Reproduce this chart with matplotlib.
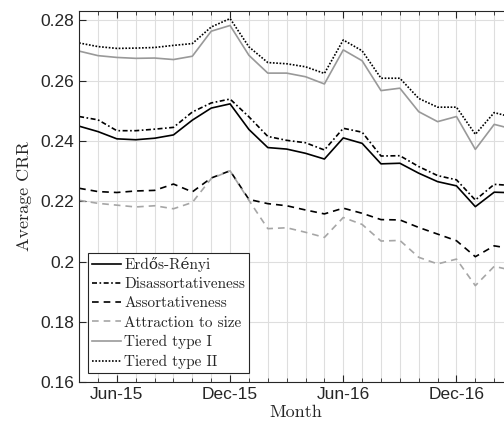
import numpy as np
import matplotlib
matplotlib.use('Agg')
from matplotlib import pyplot as plt
from matplotlib.ticker import FixedLocator, FormatStrFormatter

months = ['Apr-15', 'May-15', 'Jun-15', 'Jul-15', 'Aug-15', 'Sep-15', 'Oct-15', 'Nov-15',
          'Dec-15', 'Jan-16', 'Feb-16', 'Mar-16', 'Apr-16', 'May-16', 'Jun-16', 'Jul-16',
          'Aug-16', 'Sep-16', 'Oct-16', 'Nov-16', 'Dec-16', 'Jan-17', 'Feb-17', 'Mar-17']
tick_months = ['Jun-15', 'Dec-15', 'Jun-16', 'Dec-16']

erdos_renyi = [0.2449, 0.2431, 0.2407, 0.2404, 0.2409, 0.2420, 0.2469, 0.2509,
               0.2523, 0.2438, 0.2378, 0.2373, 0.2359, 0.2340, 0.2410, 0.2392,
               0.2324, 0.2326, 0.2293, 0.2265, 0.2251, 0.2182, 0.2230, 0.2228]
disassort = [0.2481, 0.2470, 0.2434, 0.2434, 0.2439, 0.2445, 0.2496, 0.2526,
             0.2539, 0.2480, 0.2415, 0.2402, 0.2394, 0.2370, 0.2442, 0.2429,
             0.2350, 0.2351, 0.2315, 0.2285, 0.2271, 0.2204, 0.2256, 0.2252]
assort = [0.2243, 0.2232, 0.2229, 0.2234, 0.2236, 0.2257, 0.2231, 0.2277,
          0.2301, 0.2206, 0.2192, 0.2185, 0.2171, 0.2158, 0.2177, 0.2160,
          0.2139, 0.2138, 0.2113, 0.2091, 0.2069, 0.2016, 0.2052, 0.2042]
attraction = [0.2203, 0.2193, 0.2187, 0.2181, 0.2185, 0.2175, 0.2196, 0.2275,
              0.2301, 0.2203, 0.2109, 0.2112, 0.2097, 0.2080, 0.2146, 0.2123,
              0.2068, 0.2070, 0.2014, 0.1992, 0.2008, 0.1920, 0.1984, 0.1970]
tiered_1 = [0.2698, 0.2683, 0.2677, 0.2674, 0.2675, 0.2670, 0.2681, 0.2764,
            0.2783, 0.2684, 0.2625, 0.2625, 0.2613, 0.2589, 0.2702, 0.2666,
            0.2567, 0.2575, 0.2497, 0.2464, 0.2481, 0.2372, 0.2455, 0.2439]
tiered_2 = [0.2725, 0.2713, 0.2707, 0.2708, 0.2710, 0.2717, 0.2723, 0.2778,
            0.2806, 0.2712, 0.2660, 0.2656, 0.2646, 0.2624, 0.2735, 0.2699,
            0.2608, 0.2608, 0.2541, 0.2512, 0.2512, 0.2422, 0.2494, 0.2478]

serif = ['cmr10', 'DejaVu Serif']
plt.rcParams['font.family'] = ['Liberation Sans', 'DejaVu Sans']
plt.rcParams['axes.unicode_minus'] = False

fig = plt.figure(figsize=(5.04, 4.32), dpi=100)
# axes run past the right edge of the figure
ax = fig.add_axes([0.157, 0.1155, 0.861, 0.859])

x = np.arange(len(months))
ax.plot(x, erdos_renyi, color='black', lw=1.2, ls='-', label='Erdős-Rényi')
ax.plot(x, disassort, color='black', lw=1.2, ls=(0, (3, 1.5, 1, 1.5)), label='Disassortativeness')
ax.plot(x, assort, color='black', lw=1.2, ls=(0, (4, 3)), label='Assortativeness')
ax.plot(x, attraction, color='#a6a6a6', lw=1.2, ls=(0, (4, 3)), label='Attraction to size')
ax.plot(x, tiered_1, color='#999999', lw=1.2, ls='-', label='Tiered type I')
ax.plot(x, tiered_2, color='black', lw=1.2, ls=(0, (1, 1)), label='Tiered type II')

ax.set_xlim(0, len(months) - 1)
ax.set_ylim(0.16, 0.2831)
ax.xaxis.set_major_locator(FixedLocator([months.index(m) for m in tick_months]))
ax.set_xticklabels(tick_months)
ax.xaxis.set_minor_locator(FixedLocator(x))
ax.set_yticks(np.arange(0.16, 0.2801, 0.02))
ax.yaxis.set_major_formatter(FormatStrFormatter('%g'))

ax.grid(True, which='both', axis='x', color='#dedede', lw=0.8)
ax.grid(True, which='major', axis='y', color='#dedede', lw=0.8)
ax.set_axisbelow(True)
ax.tick_params(which='both', direction='in', top=True, right=True,
               colors='#262626', labelsize=12.5)
ax.tick_params(which='major', length=5)
ax.tick_params(which='minor', length=3)
for s in ax.spines.values():
    s.set_color('#262626')
    s.set_linewidth(0.8)

ax.set_xlabel('Month', family=serif, fontsize=13, color='#262626', labelpad=2)
ax.set_ylabel('Average CRR', family=serif, fontsize=13, color='#262626', labelpad=6)

leg = ax.legend(loc='lower left', prop={'family': serif, 'size': 11},
                handlelength=1.9, handletextpad=0.2, labelspacing=0.36,
                borderpad=0.25, borderaxespad=0.6, fancybox=False,
                framealpha=1, edgecolor='#262626')
leg.get_frame().set_linewidth(0.8)
for t in leg.get_texts():
    t.set_color('#262626')

plt.savefig('out.png', dpi=100)
